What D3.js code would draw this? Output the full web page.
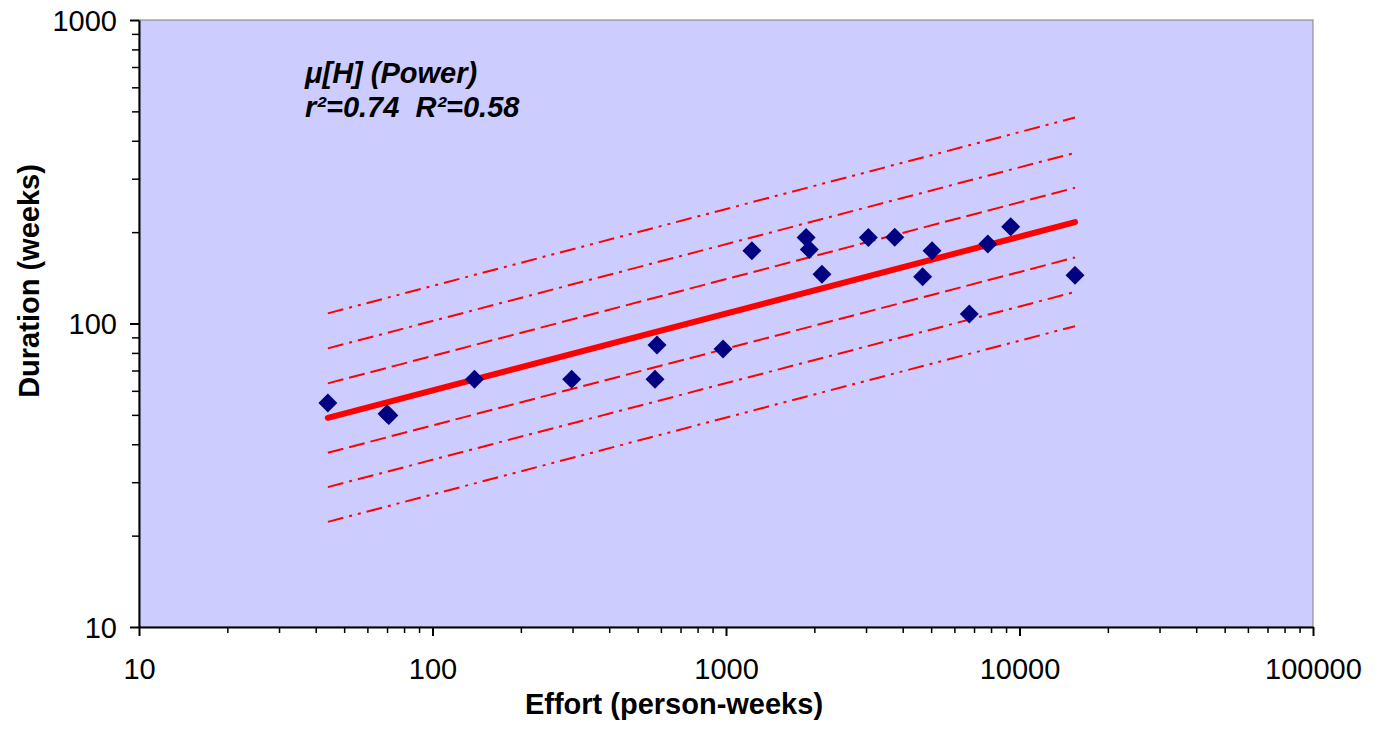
<!DOCTYPE html>
<html>
<head>
<meta charset="utf-8">
<script src="https://cdn.jsdelivr.net/npm/d3@7"></script>
<style>
  body { margin: 0; background: #fff; }
  text { font-family: "Liberation Sans", Arial, sans-serif; }
</style>
</head>
<body>
<div id="chart"></div>
<script>
// effort (person-weeks) and duration (weeks)
let effort   = [44, 70, 71, 139, 298, 573, 582, 977, 1225, 1875, 1922, 2123, 3055, 3758, 4677, 5035, 6744, 7800, 9333, 15460];
let duration = [54.7, 50.4, 49.8, 65.5, 65.5, 65.5, 84.9, 82.4, 173.8, 191.9, 175.4, 145.2, 191.9, 192.5, 142.6, 173.8, 107.4, 182.8, 208.4, 144.2];

// power fit line and the bands round it (values at first and last effort)
let fitX = [44, 15460];
let fitY = [48.9, 215.8];
let bandStart = [108, 82.8, 63.5, 37.5, 28.9, 22.2];
let bandEnd   = [477, 365, 280, 165, 127, 98];

let xTicks = [10, 100, 1000, 10000, 100000];
let yTicks = [10, 100, 1000];
let noteLines = ["μ[H] (Power)", "r²=0.74  R²=0.58"];

let width = 1380, height = 730;
let margin = {top: 20, right: 67, bottom: 103, left: 139};
let w = width - margin.left - margin.right;
let h = height - margin.top - margin.bottom;

let svg = d3.select("#chart").append("svg")
    .attr("width", width)
    .attr("height", height);

let g = svg.append("g")
    .attr("transform", "translate(" + margin.left + "," + margin.top + ")");

let x = d3.scaleLog().domain([10, 100000]).range([0, w]);
let y = d3.scaleLog().domain([10, 1000]).range([h, 0]);

// plot area
g.append("rect")
    .attr("width", w)
    .attr("height", h)
    .attr("fill", "#CCCCFF")
    .attr("stroke", "#808080")
    .attr("stroke-width", 1);

// minor ticks
let minorX = [];
let minorY = [];
x.ticks().forEach(function(t) { if (xTicks.indexOf(t) < 0) minorX.push(t); });
y.ticks().forEach(function(t) { if (yTicks.indexOf(t) < 0) minorY.push(t); });

g.append("g")
    .attr("transform", "translate(0," + h + ")")
    .call(d3.axisBottom(x).tickValues(minorX).tickSize(6).tickSizeOuter(0).tickFormat(""))
    .call(a => a.select(".domain").remove())
    .selectAll("line").attr("stroke", "#000").attr("stroke-width", 1.5);

g.append("g")
    .call(d3.axisLeft(y).tickValues(minorY).tickSize(7).tickSizeOuter(0).tickFormat(""))
    .call(a => a.select(".domain").remove())
    .selectAll("line").attr("stroke", "#000").attr("stroke-width", 1.5);

// major axes
let xAxis = g.append("g")
    .attr("transform", "translate(0," + h + ")")
    .call(d3.axisBottom(x).tickValues(xTicks).tickSize(9).tickSizeOuter(0).tickFormat(d3.format("d")));
xAxis.select(".domain").attr("stroke", "#000").attr("stroke-width", 2);
xAxis.selectAll("line").attr("stroke", "#000").attr("stroke-width", 2);
xAxis.selectAll("text")
    .attr("y", 52)
    .attr("dy", 0)
    .attr("fill", "#000")
    .style("font-size", "29px");

let yAxis = g.append("g")
    .call(d3.axisLeft(y).tickValues(yTicks).tickSize(9).tickSizeOuter(0).tickFormat(d3.format("d")));
yAxis.select(".domain").attr("stroke", "#000").attr("stroke-width", 2);
yAxis.selectAll("line").attr("stroke", "#000").attr("stroke-width", 2);
yAxis.selectAll("text")
    .attr("x", -22)
    .attr("dy", "0.35em")
    .attr("fill", "#000")
    .style("font-size", "29px");

// bands
let dashes = ["16,6,3,6,3,6", "16,6,3,6", "16,6", "16,6", "16,6,3,6", "16,6,3,6,3,6"];
let line = d3.line().x(d => x(d[0])).y(d => y(d[1]));

g.selectAll(".band")
    .data(bandStart.map((s, i) => [[fitX[0], s], [fitX[1], bandEnd[i]]]))
    .enter()
    .append("path")
    .attr("class", "band")
    .attr("d", line)
    .attr("fill", "none")
    .attr("stroke", "#FF0000")
    .attr("stroke-width", 2)
    .attr("stroke-dasharray", (d, i) => dashes[i]);

// fit line
g.append("path")
    .datum(fitX.map((v, i) => [v, fitY[i]]))
    .attr("d", line)
    .attr("fill", "none")
    .attr("stroke", "#FF0000")
    .attr("stroke-width", 6)
    .attr("stroke-linecap", "round");

// points
let diamond = d3.symbol().type(d3.symbolSquare).size(180);
g.selectAll(".pt")
    .data(effort.map((e, i) => ({e: e, d: duration[i]})))
    .enter()
    .append("path")
    .attr("class", "pt")
    .attr("d", diamond)
    .attr("transform", d => "translate(" + x(d.e) + "," + y(d.d) + ") rotate(45)")
    .attr("fill", "#000080");

// note
g.selectAll(".note")
    .data(noteLines)
    .enter()
    .append("text")
    .attr("class", "note")
    .attr("x", 166)
    .attr("y", (d, i) => 63 + i * 34)
    .attr("xml:space", "preserve")
    .style("white-space", "pre")
    .style("font-size", "29px")
    .style("font-weight", "bold")
    .style("font-style", "italic")
    .text(d => d);

// axis titles
svg.append("text")
    .attr("x", 674)
    .attr("y", 714)
    .attr("text-anchor", "middle")
    .style("font-size", "29px")
    .style("font-weight", "bold")
    .text("Effort (person-weeks)");

svg.append("text")
    .attr("transform", "translate(39,281) rotate(-90)")
    .attr("text-anchor", "middle")
    .style("font-size", "29px")
    .style("font-weight", "bold")
    .text("Duration (weeks)");
</script>
</body>
</html>
